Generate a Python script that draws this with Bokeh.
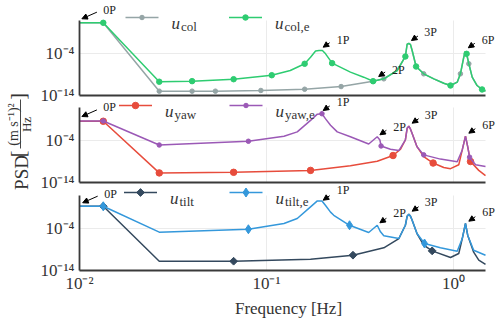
import math
from bokeh.plotting import figure
from bokeh.models import (Range1d, LinearScale, FixedTicker, CustomJSTickFormatter,
                          Label, Arrow, NormalHead, Grid)
from bokeh.layouts import row, column
from bokeh.embed import file_html
from bokeh.resources import INLINE

# ---------------- data ----------------
# panel 1 : collective
freq_col = [0.01, 0.0134, 0.0267, 0.04, 0.0533, 0.0933, 0.16, 0.2506, 0.3715, 0.424, 0.5,
            0.553, 0.565, 0.577, 0.589, 0.601, 0.631, 0.693, 0.785, 0.887, 0.964, 1.047,
            1.089, 1.135, 1.159, 1.175, 1.208, 1.259, 1.337, 1.422, 1.483]
psd_col = [2.8e3, 2.8e3, 1.1e-13, 1.1e-13, 1.1e-13, 1.6e-13, 3.2e-13, 1.4e-12, 2.7e-11, 1.0e-10,
           1.0e-8, 2.3e-5, 2.0e-2, 3.2e-2, 1.6e-2, 6.3e-4, 9.1e-8, 1.6e-9, 1.0e-10, 8.9e-12,
           2.5e-12, 1.6e-11, 1.6e-9, 1.6e-5, 4.3e-4, 1.0e-4, 4.1e-7, 2.5e-10, 2.5e-12, 2.8e-13, 1.1e-13]
mark_col = [1, 2, 3, 4, 5, 6, 7, 8, 9, 17, 22, 26]

freq_col_e = [0.01, 0.0134, 0.0267, 0.04, 0.0667, 0.1067, 0.134, 0.16, 0.172, 0.183, 0.191,
              0.199, 0.207, 0.2244, 0.281, 0.331, 0.3715, 0.424, 0.5, 0.553, 0.565, 0.577,
              0.589, 0.601, 0.631, 0.693, 0.785, 0.887, 0.964, 1.047, 1.089, 1.135, 1.159,
              1.175, 1.208, 1.259, 1.337, 1.422, 1.483]
psd_col_e = [2.8e3, 2.8e3, 2.0e-11, 2.8e-11, 8.1e-11, 7.4e-10, 1.0e-8, 4.1e-7, 1.5e-5, 5.0e-4,
             6.6e-4, 6.3e-4, 1.0e-4, 5.8e-7, 4.0e-9, 2.5e-10, 2.7e-11, 1.0e-10, 1.0e-8, 2.3e-5,
             2.0e-2, 3.2e-2, 1.6e-2, 6.3e-4, 9.1e-8, 1.6e-9, 1.0e-10, 8.9e-12, 2.5e-12, 1.6e-11,
             1.6e-9, 1.6e-5, 4.3e-4, 1.0e-4, 4.1e-7, 2.5e-10, 2.5e-12, 2.8e-13, 1.1e-13]
mark_col_e = [1, 2, 3, 4, 5, 7, 13, 16, 19, 24, 28, 33, 37]

# panel 2 : yaw
freq_yaw = [0.01, 0.0134, 0.0267, 0.0667, 0.172, 0.281, 0.391, 0.475, 0.521, 0.553, 0.565,
            0.577, 0.589, 0.601, 0.638, 0.693, 0.778, 0.887, 0.964, 1.067, 1.114, 1.159,
            1.191, 1.233, 1.365, 1.483]
psd_yaw = [5.0, 5.0, 2.0e-12, 2.8e-12, 8.1e-12, 1.1e-10, 1.3e-9, 3.0e-8, 1.0e-6, 1.6e-4, 0.1,
           0.32, 6.3e-2, 5.9e-3, 4.0e-6, 1.6e-8, 4.7e-10, 4.0e-11, 2.1e-11, 1.8e-10, 6.6e-7,
           1.3e-3, 4.0e-6, 1.1e-9, 8.1e-12, 4.6e-13]
mark_yaw = [1, 2, 3, 4, 7, 16, 23]

freq_yaw_e = [0.01, 0.0134, 0.0267, 0.08, 0.124, 0.146, 0.172, 0.187, 0.198, 0.2065, 0.22,
              0.239, 0.281, 0.352, 0.391, 0.404, 0.41, 0.46, 0.5105, 0.553, 0.565, 0.577,
              0.589, 0.601, 0.638, 0.693, 0.851, 1.047, 1.114, 1.159, 1.191, 1.219, 1.312, 1.483]
psd_yaw_e = [5.8, 5.8, 1.0e-5, 7.9e-5, 1.3e-3, 1.4e-2, 8.3, 2.5e2, 3.2e2, 21.0, 0.55, 1.4e-2,
             9.3e-4, 1.7e-5, 9.3e-4, 1.6e-4, 5.8e-6, 1.0e-6, 4.5e-7, 1.6e-4, 0.1, 0.32, 6.3e-2,
             5.9e-3, 4.0e-6, 4.3e-8, 4.1e-9, 9.3e-10, 6.6e-7, 1.3e-3, 4.0e-6, 1.2e-8, 1.8e-10, 7.2e-11]
mark_yaw_e = [1, 2, 3, 8, 16, 25, 31]

# panel 3 : tilt
freq_tilt = [0.01, 0.0134, 0.0267, 0.0667, 0.172, 0.29, 0.424, 0.5105, 0.553, 0.565, 0.577,
             0.589, 0.601, 0.638, 0.693, 0.769, 0.964, 1.067, 1.114, 1.159, 1.191, 1.282,
             1.365, 1.483]
psd_tilt = [26.0, 26.0, 1.7e-12, 1.7e-12, 5.1e-12, 4.7e-11, 2.8e-9, 4.7e-7, 7.2e-4, 0.1, 0.32,
            0.1, 1.1e-2, 7.4e-6, 1.2e-8, 5.1e-10, 1.3e-11, 1.2e-10, 4.7e-7, 1.9e-3, 3.0e-6,
            2.5e-10, 3.0e-12, 2.8e-13]
mark_tilt = [1, 3, 5, 15]

freq_tilt_e = [0.01, 0.0134, 0.0267, 0.08, 0.124, 0.146, 0.172, 0.187, 0.198, 0.2065, 0.22,
               0.229, 0.278, 0.352, 0.391, 0.407, 0.424, 0.5105, 0.553, 0.565, 0.577, 0.589,
               0.601, 0.638, 0.70, 0.851, 1.047, 1.114, 1.159, 1.191, 1.282, 1.483]
psd_tilt_e = [26.0, 26.0, 1.6e-5, 7.9e-5, 1.9e-3, 3.0e-2, 19.0, 5.0e2, 5.0e2, 46.0, 1.0, 0.18,
              7.2e-4, 1.3e-5, 7.2e-4, 1.9e-5, 2.1e-6, 4.7e-7, 7.2e-4, 0.1, 0.32, 0.1, 1.1e-2,
              7.4e-6, 3.0e-8, 2.8e-9, 4.3e-10, 4.7e-7, 1.9e-3, 3.0e-6, 7.4e-10, 4.7e-11]
mark_tilt_e = [1, 3, 12, 24]

# harmonic annotations: label and the (frequency, PSD) point each arrow points at
ann_labels = ["0P", "1P", "2P", "3P", "6P"]
ann_heads_col = [(0.0103, 2.6e4), (0.201, 3.9e-3), (0.398, 3.6e-10), (0.596, 0.158), (1.2, 2.8e-3)]
ann_heads_yaw = [(0.0103, 69.0), (0.201, 1.9e3), (0.404, 2.8e-3), (0.601, 1.7), (1.208, 6.8e-3)]
ann_heads_tilt = [(0.0104, 1.8e2), (0.201, 7.4e2), (0.404, 2.8e-3), (0.601, 1.7), (1.208, 6.8e-3)]

x_ticks = [0.01, 0.1, 1.0]
y_ticks = [1e-14, 1e-4]

# ---------------- style / layout ----------------
FREQ_MIN, FREQ_MAX = 0.01, 1.483
PSD_MIN, PSD_MAX = 1e-14, 1e4
AX_W = 406                      # width of the axes box (0.01 .. 1.483 Hz)
PX_DEC_Y = 75 / 18.0
PX_DEC_X = AX_W / math.log10(FREQ_MAX / FREQ_MIN)
EXT_R = 12                      # frame room right of the axes (annotation text)
FRAME_W = AX_W + EXT_R

SERIF = "Liberation Serif"
TXT = "#333333"
SPINE = "#3a3a3a"
GRID = "#ebebeb"

SUP_JS = """
const m = {'-':'\\u207B','0':'\\u2070','1':'\\u00B9','2':'\\u00B2','3':'\\u00B3','4':'\\u2074',
           '5':'\\u2075','6':'\\u2076','7':'\\u2077','8':'\\u2078','9':'\\u2079'};
const e = Math.round(Math.log10(tick));
return '10' + String(e).split('').map(c => m[c]).join('');
"""

HAS_CROSS = "cross_bounds" in Grid.properties()


def make_panel(ext_top, border_top, border_bottom, x_labels):
    frame_h = 75 + ext_top
    y_top = PSD_MAX * 10 ** (ext_top / PX_DEC_Y)
    x_right = FREQ_MAX * 10 ** (EXT_R / PX_DEC_X)
    p = figure(x_axis_type="log", y_axis_type="log",
               x_range=Range1d(FREQ_MIN, x_right), y_range=Range1d(PSD_MIN, y_top),
               frame_width=FRAME_W, frame_height=frame_h,
               width=44 + FRAME_W + 3, height=border_top + frame_h + border_bottom,
               min_border_left=44, min_border_right=3,
               min_border_top=border_top, min_border_bottom=border_bottom,
               toolbar_location=None, output_backend="svg",
               background_fill_color=None, border_fill_color=None,
               outline_line_color=None)
    p.extra_x_ranges = {"lx": Range1d(0, FRAME_W)}
    p.extra_y_ranges = {"ly": Range1d(0, frame_h)}
    p.extra_x_scales = {"lx": LinearScale()}
    p.extra_y_scales = {"ly": LinearScale()}

    ya = p.yaxis[0]
    ya.ticker = FixedTicker(ticks=y_ticks)
    ya.formatter = CustomJSTickFormatter(code=SUP_JS)
    ya.bounds = (PSD_MIN, PSD_MAX)
    xa = p.xaxis[0]
    xa.ticker = FixedTicker(ticks=x_ticks)
    xa.bounds = (FREQ_MIN, FREQ_MAX)
    if x_labels:
        xa.formatter = CustomJSTickFormatter(code=SUP_JS)
        xa.axis_label = "Frequency [Hz]"
        xa.axis_label_text_font = SERIF
        xa.axis_label_text_font_size = "17px"
        xa.axis_label_text_font_style = "normal"
        xa.axis_label_text_color = TXT
        xa.axis_label_standoff = 3
        xa.major_label_standoff = 3
        xa.major_label_text_font_size = "17px"
    else:
        xa.formatter = CustomJSTickFormatter(code="return ''")
        xa.major_label_standoff = 0
        xa.major_label_text_font_size = "0px"
    for ax in (xa, ya):
        ax.axis_line_color = SPINE
        ax.axis_line_width = 1.8
        ax.major_tick_line_color = None
        ax.minor_tick_line_color = None
        ax.major_tick_out = 0
        ax.major_tick_in = 0
        ax.major_label_text_font = SERIF
        ax.major_label_text_color = TXT
    ya.major_label_text_font_size = "17px"
    ya.major_label_standoff = 5

    p.xgrid.ticker = FixedTicker(ticks=x_ticks)
    p.ygrid.ticker = FixedTicker(ticks=y_ticks)
    p.grid.grid_line_color = GRID
    p.grid.grid_line_width = 1
    if HAS_CROSS:
        p.xgrid.cross_bounds = (PSD_MIN, PSD_MAX)
        p.ygrid.cross_bounds = (FREQ_MIN, FREQ_MAX)
    else:
        p.grid.visible = False
        for t in x_ticks[1:]:
            p.add_layout(Arrow(x_start=t, y_start=PSD_MIN, x_end=t, y_end=PSD_MAX, start=None,
                               end=None, line_color=GRID, line_width=1, level="underlay"))
        for t in y_ticks[1:]:
            p.add_layout(Arrow(x_start=FREQ_MIN, y_start=t, x_end=FREQ_MAX, y_end=t, start=None,
                               end=None, line_color=GRID, line_width=1, level="underlay"))
    return p


def add_series(p, f, v, marks, color, marker, msize, angle=0.0):
    p.line(f, v, line_color=color, line_width=1.5)
    p.scatter([f[i] for i in marks], [v[i] for i in marks], marker=marker, size=msize,
              angle=angle, fill_color=color, line_color=color)


def add_legend_item(p, x0, y, color, marker, msize, sub, angle=0.0, gap=13):
    p.line([x0, x0 + 33], [y, y], x_range_name="lx", y_range_name="ly",
           line_color=color, line_width=1.5)
    p.scatter([x0 + 16.5], [y], x_range_name="lx", y_range_name="ly", marker=marker,
              size=msize, angle=angle, fill_color=color, line_color=color)
    tx = x0 + 33 + gap
    p.add_layout(Label(x=tx, y=y - 5.5, x_range_name="lx", y_range_name="ly", text="u",
                       text_font=SERIF, text_font_style="italic", text_font_size="17px",
                       text_color=TXT, text_baseline="alphabetic", text_align="left"))
    p.add_layout(Label(x=tx + 9.5, y=y - 8.5, x_range_name="lx", y_range_name="ly", text=sub,
                       text_font=SERIF, text_font_size="13px",
                       text_color=TXT, text_baseline="alphabetic", text_align="left"))


def annotate(p, heads, text_dy):
    tails = [(15, 6.6)] + [(6.5, 4.5)] * 4
    text_dx = [27.8, 19.8, 19.7, 19, 19.8]
    for lab, (fh, vh), (tdx, tdy), dx, dy in zip(ann_labels, heads, tails, text_dx, text_dy):
        ft = fh * 10 ** (tdx / PX_DEC_X)
        vt = vh * 10 ** (tdy / PX_DEC_Y)
        p.add_layout(Arrow(x_start=ft, y_start=vt, x_end=fh, y_end=vh, start=None,
                           end=NormalHead(size=5.5, fill_color="black", line_color="black",
                                          line_width=1),
                           line_color="black", line_width=1))
        p.add_layout(Label(x=fh, y=vh, x_offset=dx, y_offset=dy, text=lab,
                           text_font=SERIF, text_font_size="12px", text_color="#222222",
                           text_align="center", text_baseline="middle"))


# panel 1
p1 = make_panel(18, 2, 11, False)
add_series(p1, freq_col, psd_col, mark_col, "#95a5a6", "circle", 4.5)
add_series(p1, freq_col_e, psd_col_e, mark_col_e, "#2ecc71", "circle", 5.5)
add_legend_item(p1, 46, 78, "#95a5a6", "circle", 4.5, "col")
add_legend_item(p1, 149.5, 78, "#2ecc71", "circle", 5.5, "col,e")
annotate(p1, ann_heads_col, [8.8, 7.7, 7, 8.5, 8.3])

# panel 2 (its canvas overlaps the one above by 13 px; both are transparent)
p2 = make_panel(13, 1, 11, False)
p2.margin = (-13, 0, 0, 0)
add_series(p2, freq_yaw, psd_yaw, mark_yaw, "#e74c3c", "circle", 6.5)
add_series(p2, freq_yaw_e, psd_yaw_e, mark_yaw_e, "#9b59b6", "circle", 4.5)
add_legend_item(p2, 39.5, 77, "#e74c3c", "circle", 6.5, "yaw")
add_legend_item(p2, 150, 77, "#9b59b6", "circle", 4.5, "yaw,e")
annotate(p2, ann_heads_yaw, [9.3, 9, 8.3, 8.2, 7.7])

# panel 3
p3 = make_panel(13, 2, 50, True)
p3.margin = (-13, 0, 0, 0)
add_series(p3, freq_tilt, psd_tilt, mark_tilt, "#34495e", "square", 5.5, math.pi / 4)
add_series(p3, freq_tilt_e, psd_tilt_e, mark_tilt_e, "#3498db", "diamond", 9)
add_legend_item(p3, 44.5, 78, "#34495e", "square", 5.5, "tilt", math.pi / 4)
add_legend_item(p3, 150, 78, "#3498db", "diamond", 9, "tilt,e")
annotate(p3, ann_heads_tilt, [8.6, 10.7, 9.8, 9, 8.7])

# y-axis label, shared by the three panels
ylab = figure(width=35, height=320, x_range=Range1d(0, 35), y_range=Range1d(0, 320),
              x_axis_location=None, y_axis_location=None, min_border=0,
              toolbar_location=None, output_backend="svg", outline_line_color=None,
              background_fill_color=None, border_fill_color=None)
ylab.grid.visible = False
rot = math.pi / 2
ylab.add_layout(Label(x=21, y=148, text="PSD", angle=rot, text_font=SERIF, text_font_size="19px",
                      text_color=TXT, text_align="center", text_baseline="middle"))
ylab.add_layout(Label(x=17, y=166.5, text="[", angle=rot, text_font=SERIF, text_font_size="20px",
                      text_color=TXT, text_align="center", text_baseline="middle"))
ylab.add_layout(Label(x=17, y=224, text="]", angle=rot, text_font=SERIF, text_font_size="20px",
                      text_color=TXT, text_align="center", text_baseline="middle"))
ylab.add_layout(Label(x=12.5, y=196, text="(m s\u207b\u00b9)\u00b2", angle=rot, text_font=SERIF,
                      text_font_size="14px", text_color=TXT, text_align="center",
                      text_baseline="middle"))
ylab.add_layout(Arrow(x_start=20, y_start=221, x_end=20, y_end=172, start=None, end=None,
                      line_color=TXT, line_width=0.9))
ylab.add_layout(Label(x=26, y=196, text="Hz", angle=rot, text_font=SERIF, text_font_size="13px",
                      text_color=TXT, text_align="center", text_baseline="middle"))

layout = row(ylab, column(p1, p2, p3))

with open("out.html", "w", encoding="utf-8") as fh:
    fh.write(file_html(layout, INLINE, title="PSD"))
